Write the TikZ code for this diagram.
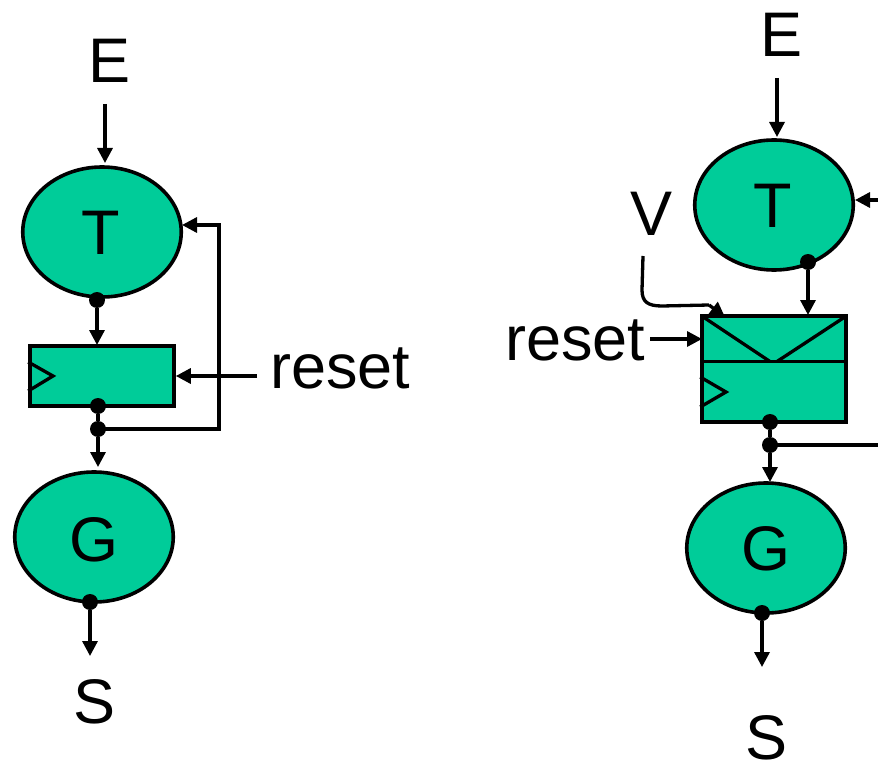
\documentclass[tikz,border=0pt]{standalone}
\usepackage{fontspec}
\setmainfont{Liberation Sans}
\usetikzlibrary{arrows.meta,shapes.geometric}
\definecolor{gr}{HTML}{00CC99}
\tikzset{
  bubble/.style={ellipse,draw=black,fill=gr,line width=3.6pt,inner sep=0pt,minimum width=158.5pt,minimum height=130pt},
  reg/.style={rectangle,draw=black,fill=gr,line width=3.6pt,inner sep=0pt},
  dotn/.style={circle,fill=black,inner sep=0pt,minimum size=16pt},
  labs/.style={inner sep=0pt,font=\fontsize{63}{63}\selectfont},
  wire/.style={line width=3.3pt,line join=miter},
  arr/.style={wire,-{Triangle[length=15pt,width=15pt]}},
}
\begin{document}
\begin{tikzpicture}[x=1pt,y=-1pt]
\useasboundingbox (0,0) rectangle (878,762);
% left
\node[labs] (E1) at (110,61) {E};
\coordinate (E1s) at (105,104);
\node[bubble] (T1) at (102,232) {};
\node[labs] at (101,233) {T};
\node[reg,minimum width=144pt,minimum height=60pt] (R1) at (102,376) {};
\draw[wire] (R1.west |- 0,362) -- (53,376) -- (R1.west |- 0,391);
\node[bubble] (G1) at (94,537) {};
\node[labs] at (94,540) {G};
\node[dotn] (a1) at (97,300) {};
\node[dotn] (b1) at (98,406) {};
\node[dotn] (c1) at (98,429) {};
\node[dotn] (d1) at (90,602) {};
\node[labs] (S1) at (95,702) {S};
\node[labs,anchor=base west] (rs1) at (270,388) {reset};
\coordinate (rs1e) at (257,376);
\coordinate (f1) at (219,429);
\coordinate (f2) at (219,225);
\coordinate (f3) at (182,225);
\coordinate (g1) at (97,345);
\coordinate (g2) at (98,467);
\coordinate (g3) at (90,656);
\coordinate (g4) at (105,163);
\draw[arr] (E1s) -- (g4);
\draw[arr] (a1) -- (g1);
\draw[wire] (b1) -- (c1);
\draw[arr] (c1) -- (g2);
\draw[arr] (d1) -- (g3);
\draw[arr] (rs1e) -- (R1.east);
\draw[arr] (c1.center) -- (f1) -- (f2) -- (f3);
% right
\node[labs] (E2) at (782,35) {E};
\coordinate (E2s) at (777,78);
\coordinate (h4) at (777,137);
\node[bubble] (T2) at (774,205) {};
\node[labs] at (773,206) {T};
\node[reg,minimum width=144pt,minimum height=106pt] (R2) at (774,369) {};
\draw[wire] (R2.west |- 0,361.5) -- (R2.east |- 0,361.5);
\coordinate (k1) at (704,317.5);
\coordinate (k2) at (844,317.5);
\draw[wire] (k1) -- (770,361.5);
\draw[wire] (k2) -- (777,361.5);
\draw[wire] (R2.west |- 0,377) -- (726,392) -- (R2.west |- 0,407);
\node[bubble] (G2) at (766,548) {};
\node[labs] at (766,549) {G};
\node[dotn] (a2) at (808,262) {};
\node[dotn] (b2) at (770,422) {};
\node[dotn] (c2) at (770,445) {};
\node[dotn] (d2) at (762,613) {};
\node[labs] (S2) at (767,738) {S};
\node[labs] (V) at (652,214) {V};
\node[labs,anchor=base west] (rs2) at (505,360) {reset};
\coordinate (rs2e) at (650,339);
\coordinate (rs2t) at (702,339);
\coordinate (h1) at (808,315);
\coordinate (h2) at (770,482);
\coordinate (h3) at (762,667);
\coordinate (x1) at (878,445);
\coordinate (x2) at (878,200);
\coordinate (x3) at (855,200);
\coordinate (v1) at (643,256);
\coordinate (v2) at (709,305);
\coordinate (v3) at (725,317);
\draw[arr] (E2s) -- (h4);
\draw[arr] (a2) -- (h1);
\draw[wire] (b2) -- (c2);
\draw[arr] (c2) -- (h2);
\draw[arr] (d2) -- (h3);
\draw[arr] (rs2e) -- (rs2t);
\draw[wire] (c2.center) -- (x1);
\draw[arr] (x2) -- (x3);
\draw[wire] (v1) -- (642,290) .. controls (642,302) and (648,306) .. (662,306) -- (v2);
\draw[arr] (v2) -- (v3);
\end{tikzpicture}
\end{document}
